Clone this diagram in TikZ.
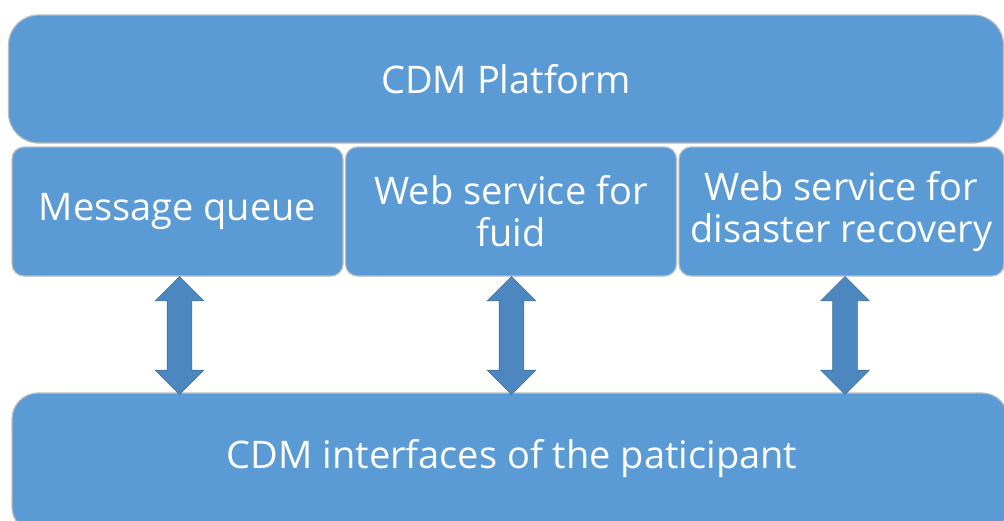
\documentclass[tikz,border=0pt]{standalone}
\usepackage{fontspec}
\setmainfont{Open Sans}
\usetikzlibrary{shapes.arrows}
\definecolor{boxblue}{HTML}{5B9BD5}
\definecolor{boxedge}{HTML}{BDBDBD}
\definecolor{arrowblue}{HTML}{4D87BF}
\definecolor{arrowedge}{HTML}{41719C}
\tikzset{
  blk/.style={draw=boxedge, line width=1.2pt, fill=boxblue, text=white, align=center, inner sep=0pt, font=\fontsize{38}{42}\selectfont},
  dblarrow/.style={draw=arrowedge, line width=0.6pt, fill=arrowblue, double arrow, double arrow head extend=12pt, inner xsep=0pt, inner ysep=12pt, rotate=90, minimum height=118pt}
}
\begin{document}
\begin{tikzpicture}[x=1pt,y=-1pt]
\useasboundingbox (0,0) rectangle (1004,520);
\begin{scope}
\clip (0,0) rectangle (1004,520);
\node[blk, rounded corners=30pt, minimum width=995pt, minimum height=128pt] (platform) at (506,79) {CDM Platform};
\node[blk, rounded corners=12pt, minimum width=331pt, minimum height=129pt] (mq) at (177.5,211.5) {Message queue};
\node[blk, rounded corners=12pt, minimum width=331pt, minimum height=129pt] (fuid) at (511,211.5) {Web service for\\fuid};
\node[blk, rounded corners=12pt, minimum width=325pt, minimum height=129pt] (dr) at (841.5,211.5) {Web service for\\disaster recovery};
\node[blk, rounded corners=26pt, minimum width=996pt, minimum height=140pt] (part) at (510,463) {};
\node[text=white, font=\fontsize{38}{42}\selectfont] (partlabel) at (512,459) {CDM interfaces of the paticipant};
\node[dblarrow] (a1) at (179.5,335.5) {};
\node[dblarrow] (a2) at (511.5,335.5) {};
\node[dblarrow] (a3) at (845,335.5) {};
\end{scope}
\end{tikzpicture}
\end{document}
